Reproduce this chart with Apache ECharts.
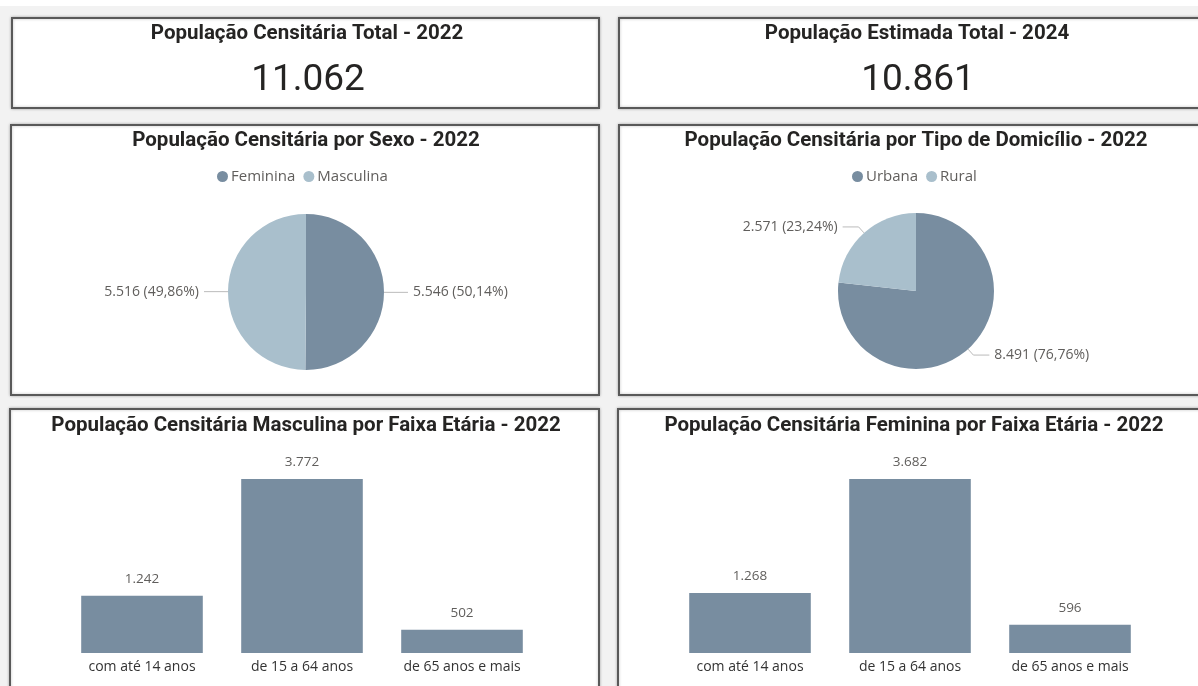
<!DOCTYPE html>
<html>
<head>
<meta charset="utf-8">
<script src="https://cdn.jsdelivr.net/npm/echarts@6/dist/echarts.min.js"></script>
<style>
  html, body { margin: 0; padding: 0; background: #f2f2f2; }
  #main { width: 1198px; height: 686px; }
</style>
</head>
<body>
<div id="main"></div>
<script>
// dados
const kpiTitles = ['População Censitária Total - 2022', 'População Estimada Total - 2024'];
const kpiValues = [11062, 10861];
const sexNames = ['Feminina', 'Masculina'];
const sexValues = [5546, 5516];
const domNames = ['Urbana', 'Rural'];
const domValues = [8491, 2571];
const ageCats = ['com até 14 anos', 'de 15 a 64 anos', 'de 65 anos e mais'];
const maleAge = [1242, 3772, 502];
const femaleAge = [1268, 3682, 596];

const dark = '#788da0';
const light = '#a9bfcc';
const titleFont = 'bold 20.5px Roboto, sans-serif';
const txtFont = '"Open Sans", sans-serif';

// 11062 -> 11.062
function fmt(n) {
  return String(n).replace(/\B(?=(\d{3})+(?!\d))/g, '.');
}

function panel(x, y, w, h) {
  return {
    type: 'rect',
    z: 0,
    shape: { x: x, y: y, width: w, height: h },
    style: {
      fill: '#fff', stroke: '#595959', lineWidth: 2,
      shadowBlur: 3, shadowColor: 'rgba(0,0,0,0.25)'
    }
  };
}

function label(x, y, text, font, color) {
  return {
    type: 'text',
    z: 100,
    x: x, y: y,
    style: {
      text: text, font: font, fill: color || '#252423',
      align: 'center', verticalAlign: 'middle'
    }
  };
}

const chart = echarts.init(document.getElementById('main'));

const pieLabel = {
  show: true,
  position: 'outside',
  color: '#605e5c',
  fontSize: 14,
  fontFamily: txtFont,
  formatter: p => fmt(p.value) + ' (' + p.percent.toFixed(2).replace('.', ',') + '%)'
};

function barSeries(data, idx) {
  return {
    type: 'bar',
    xAxisIndex: idx,
    yAxisIndex: idx,
    data: data,
    barCategoryGap: '24%',
    itemStyle: { color: dark },
    label: {
      show: true,
      position: 'top',
      distance: 10,
      color: '#605e5c',
      fontSize: 13.5,
      fontFamily: txtFont,
      formatter: p => fmt(p.value)
    }
  };
}

function catAxis(idx) {
  return {
    type: 'category',
    gridIndex: idx,
    data: ageCats,
    axisLine: { show: false },
    axisTick: { show: false },
    axisLabel: { color: '#333', fontSize: 14, fontFamily: txtFont, margin: 7 }
  };
}

function valAxis(idx) {
  return { type: 'value', gridIndex: idx, min: 0, max: 'dataMax', show: false };
}

chart.setOption({
  backgroundColor: '#f2f2f2',
  animation: false,
  graphic: [
    { type: 'rect', z: 0, shape: { x: 0, y: 0, width: 1198, height: 6 }, style: { fill: '#fff' } },
    panel(12, 18, 587, 90),
    panel(619, 18, 600, 90),
    panel(11, 125, 588, 270),
    panel(619, 125, 600, 270),
    panel(10, 409, 589, 300),
    panel(618, 409, 600, 300),
    label(307, 34, kpiTitles[0], titleFont),
    label(917, 34, kpiTitles[1], titleFont),
    label(308, 81, fmt(kpiValues[0]), '37px Roboto, sans-serif', '#252423'),
    label(918, 81, fmt(kpiValues[1]), '37px Roboto, sans-serif', '#252423'),
    label(306, 141, 'População Censitária por Sexo - 2022', titleFont),
    label(916, 141, 'População Censitária por Tipo de Domicílio - 2022', titleFont),
    label(306, 426, 'População Censitária Masculina por Faixa Etária - 2022', titleFont),
    label(914, 426, 'População Censitária Feminina por Faixa Etária - 2022', titleFont)
  ],
  legend: [
    {
      data: sexNames,
      left: 212, top: 164,
      icon: 'circle', itemWidth: 11, itemHeight: 11, itemGap: 8,
      textStyle: { color: '#605e5c', fontSize: 15, fontFamily: txtFont, padding: [0, 0, 0, -2] }
    },
    {
      data: domNames,
      left: 847, top: 164,
      icon: 'circle', itemWidth: 11, itemHeight: 11, itemGap: 8,
      textStyle: { color: '#605e5c', fontSize: 15, fontFamily: txtFont, padding: [0, 0, 0, -2] }
    }
  ],
  grid: [
    { left: 62, top: 479, width: 480, height: 174 },
    { left: 670, top: 479, width: 480, height: 174 }
  ],
  xAxis: [catAxis(0), catAxis(1)],
  yAxis: [valAxis(0), valAxis(1)],
  series: [
    {
      type: 'pie',
      center: [306, 292],
      radius: 78,
      startAngle: 90,
      data: sexNames.map((n, i) => ({ name: n, value: sexValues[i], itemStyle: { color: i === 0 ? dark : light } })),
      label: pieLabel,
      labelLine: { length: 6, length2: 18, lineStyle: { color: '#bbb', width: 1 } },
      emphasis: { disabled: true }
    },
    {
      type: 'pie',
      center: [916, 291],
      radius: 78,
      startAngle: 90,
      data: domNames.map((n, i) => ({ name: n, value: domValues[i], itemStyle: { color: i === 0 ? dark : light } })),
      label: pieLabel,
      labelLine: { length: 8, length2: 16, lineStyle: { color: '#bbb', width: 1 } },
      emphasis: { disabled: true }
    },
    barSeries(maleAge, 0),
    barSeries(femaleAge, 1)
  ]
});
</script>
</body>
</html>
